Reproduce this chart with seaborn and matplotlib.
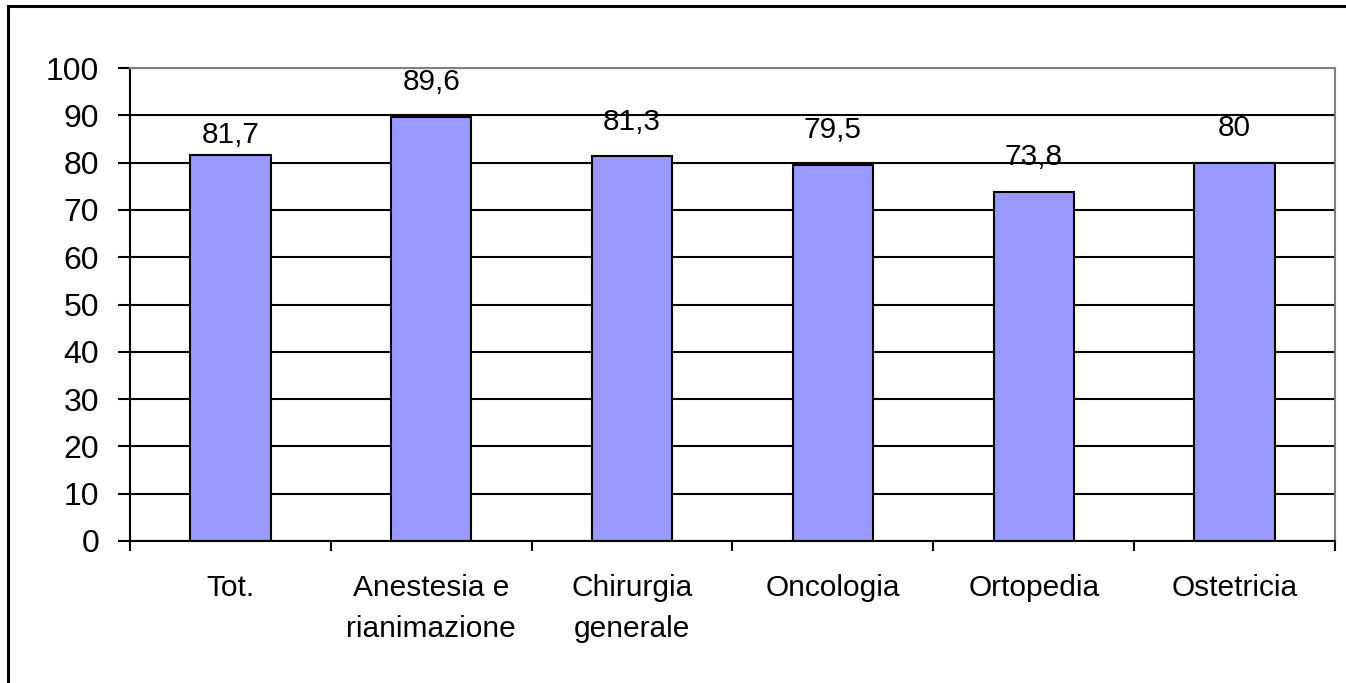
import seaborn as sns
import numpy as np
import matplotlib.pyplot as plt
from matplotlib.patches import Rectangle

# Data
categories = ["Tot.", "Anestesia e\nrianimazione", "Chirurgia\ngenerale",
              "Oncologia", "Ortopedia", "Ostetricia"]
values = [81.7, 89.6, 81.3, 79.5, 73.8, 80]
y_ticks = [0, 10, 20, 30, 40, 50, 60, 70, 80, 90, 100]

# how far each value label sits above its bar (points)
label_lift = [8.6, 19.4, 19.4, 19.4, 19.4, 19.4]

sns.set_style("white")
plt.rcParams['font.family'] = ['Liberation Sans', 'DejaVu Sans']
fs = 21.5

fig = plt.figure(figsize=(13.46, 6.83), dpi=100)
ax = fig.add_axes([130 / 1346, 1 - 541 / 683, (1335 - 130) / 1346, (541 - 68) / 683])

sns.barplot(x=list(range(len(values))), y=values, color="#9999FF", saturation=1,
            edgecolor="black", linewidth=1.5, width=0.4, ax=ax, zorder=2)

ax.set_xlim(-0.5, len(values) - 0.5)
ax.set_ylim(0, 100)
ax.set_xlabel("")
ax.set_ylabel("")

# horizontal gridlines
ax.set_yticks(y_ticks)
ax.yaxis.grid(True, color="black", lw=1.5)
ax.xaxis.grid(False)
ax.set_axisbelow(True)

# y axis
ax.tick_params(axis="y", which="major", direction="out", length=8.6, width=1.5,
               color="black", left=True, pad=13.5, labelsize=23, labelcolor="black")

# x axis: ticks at category boundaries, labels at centres
ax.set_xticks(np.arange(-0.5, len(values), 1.0))
ax.set_xticklabels([])
ax.set_xticks(np.arange(len(values)), minor=True)
ax.set_xticklabels(categories, minor=True, fontsize=fs, linespacing=1.62,
                   multialignment="center")
ax.tick_params(axis="x", which="major", direction="out", length=7.2, width=1.5,
               color="black", bottom=True)
ax.tick_params(axis="x", which="minor", length=0, pad=23.5, labelcolor="black")

for side in ["left", "bottom"]:
    ax.spines[side].set_color("black")
    ax.spines[side].set_linewidth(1.5)
for side in ["top", "right"]:
    ax.spines[side].set_color("#808080")
    ax.spines[side].set_linewidth(1.5)
    ax.spines[side].set_visible(True)

# value labels
for i, v in enumerate(values):
    ax.annotate(f"{v:g}".replace(".", ","), xy=(i, v), xytext=(0, label_lift[i]),
                textcoords="offset points", ha="center", va="baseline",
                fontsize=fs, color="black", annotation_clip=False)

# outer chart frame
fig.patches.append(Rectangle((8 / 1346, -0.05), 1.1, 1 - 6 / 683 + 0.05,
                             transform=fig.transFigure, fill=False,
                             edgecolor="black", lw=2.2, clip_on=False))

fig.savefig("out.png", dpi=100)
